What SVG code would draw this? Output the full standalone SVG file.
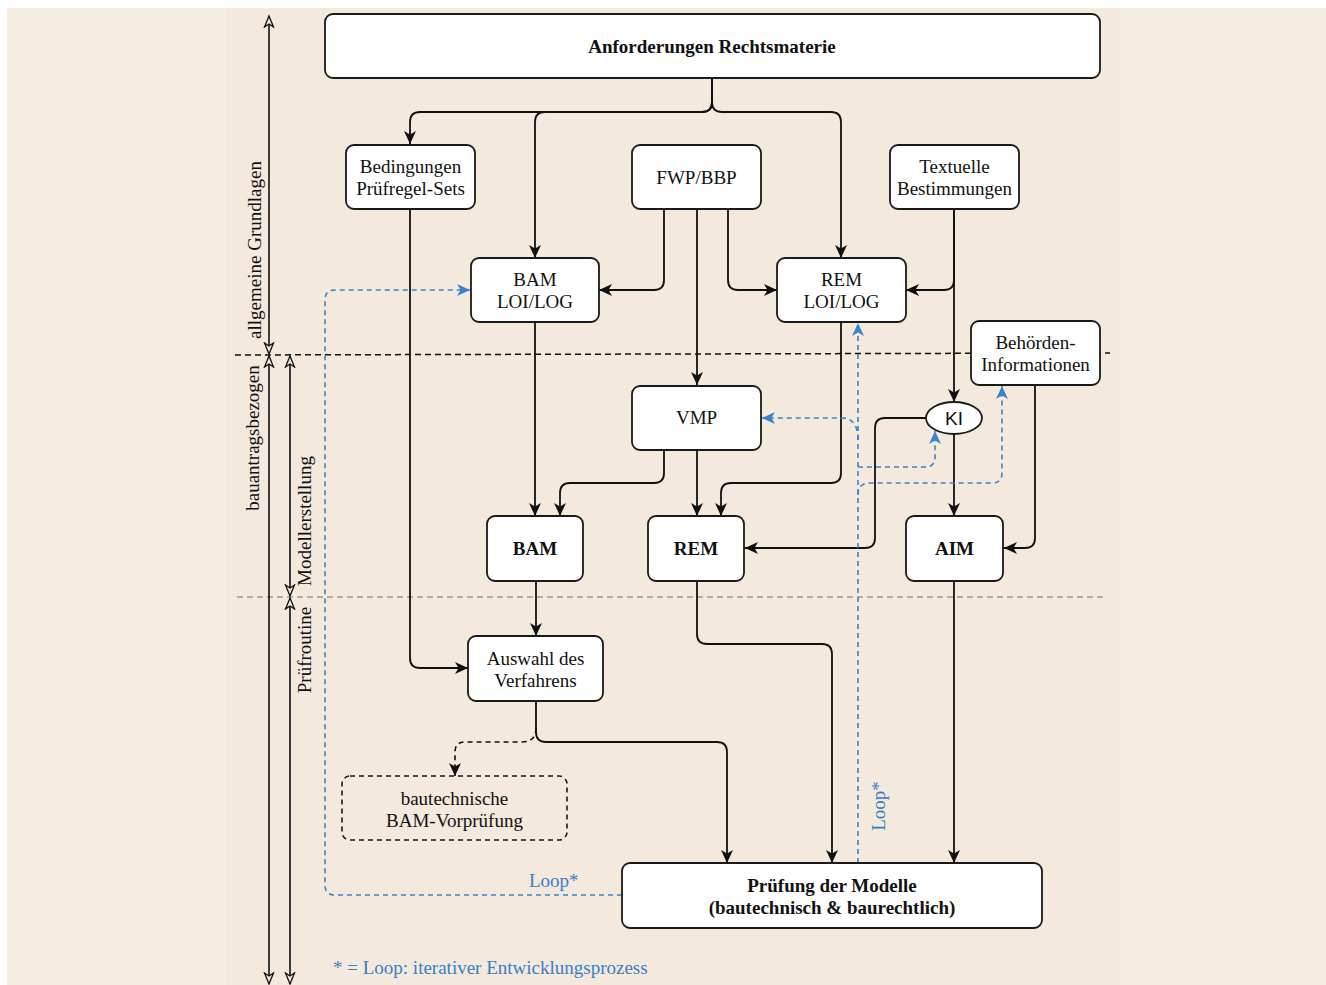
<svg xmlns="http://www.w3.org/2000/svg" width="1326" height="985" viewBox="0 0 1326 985">
<style>
.box{fill:#fff;stroke:#1a1a1a;stroke-width:1.8}
.dbox{fill:none;stroke:#1a1a1a;stroke-width:1.6;stroke-dasharray:5,4}
.t{font-family:"Liberation Serif",serif;font-size:19px;fill:#111;text-anchor:middle}
.b{font-weight:bold}
.s{font-family:"Liberation Sans",sans-serif}
.blue{fill:#3a7ec8}
.c{fill:none;stroke:#111;stroke-width:1.8}
.cd{fill:none;stroke:#111;stroke-width:1.6;stroke-dasharray:5,4}
.cb{fill:none;stroke:#3d82cc;stroke-width:1.6;stroke-dasharray:5,4}
.dim{fill:none;stroke:#111;stroke-width:1.6}
</style>
<defs>
<marker id="a" markerUnits="userSpaceOnUse" markerWidth="16" markerHeight="16" refX="13" refY="7" orient="auto">
<path d="M0,1 L13,7 L0,13 L3.5,7 z" fill="#111"/>
</marker>
<marker id="ab" markerUnits="userSpaceOnUse" markerWidth="16" markerHeight="16" refX="13" refY="7" orient="auto">
<path d="M0,1 L13,7 L0,13 L3.5,7 z" fill="#3d82cc"/>
</marker>
<marker id="o" markerUnits="userSpaceOnUse" markerWidth="14" markerHeight="14" refX="12" refY="6" orient="auto-start-reverse">
<path d="M1,1.5 L12,6 L1,10.5 L4,6 z" fill="#f4ebe0" stroke="#111" stroke-width="1.3"/>
</marker>
</defs>
<rect x="0" y="0" width="1326" height="985" fill="#fff"/>
<rect x="7" y="8" width="1319" height="977" fill="#f5ece2"/>
<rect x="226" y="8" width="894" height="977" fill="#f3e9dd"/>

<g id="guides">
<line x1="235" y1="355" x2="1110" y2="353" stroke="#111" stroke-width="1.5" stroke-dasharray="6,4"/>
<line x1="237" y1="597" x2="1105" y2="597" stroke="#999" stroke-width="1.3" stroke-dasharray="6,4"/>
<path class="dim" d="M269,16 V354" marker-start="url(#o)" marker-end="url(#o)"/>
<path class="dim" d="M269,356 V984" marker-start="url(#o)" marker-end="url(#o)"/>
<path class="dim" d="M290,356 V596" marker-start="url(#o)" marker-end="url(#o)"/>
<path class="dim" d="M290,598 V984" marker-start="url(#o)" marker-end="url(#o)"/>
<text class="t" transform="translate(261,250) rotate(-90)">allgemeine Grundlagen</text>
<text class="t" transform="translate(259,438) rotate(-90)">bauantragsbezogen</text>
<text class="t" transform="translate(311,521) rotate(-90)">Modellerstellung</text>
<text class="t" transform="translate(311,650) rotate(-90)">Prüfroutine</text>
</g>

<g id="connectors">
<path class="c" d="M712,78 V102 Q712,112 702,112 H420 Q410,112 410,122 V144" marker-end="url(#a)"/>
<path class="c" d="M712,78 V102 Q712,112 702,112 H545 Q535,112 535,122 V258" marker-end="url(#a)"/>
<path class="c" d="M712,78 V102 Q712,112 722,112 H831 Q841,112 841,122 V258" marker-end="url(#a)"/>
<path class="c" d="M664,209 V280 Q664,290 654,290 H599" marker-end="url(#a)"/>
<path class="c" d="M697,209 V385" marker-end="url(#a)"/>
<path class="c" d="M728,209 V280 Q728,290 738,290 H777" marker-end="url(#a)"/>
<path class="c" d="M954,209 V280 Q954,290 944,290 H906" marker-end="url(#a)"/>
<path class="c" d="M954,209 V402" marker-end="url(#a)"/>
<path class="c" d="M535,322 V516" marker-end="url(#a)"/>
<path class="c" d="M664,450 V473 Q664,483 654,483 H570 Q560,483 560,493 V516" marker-end="url(#a)"/>
<path class="c" d="M697,450 V516" marker-end="url(#a)"/>
<path class="c" d="M841,322 V473 Q841,483 831,483 H731 Q721,483 721,493 V516" marker-end="url(#a)"/>
<path class="c" d="M926,418 H885 Q875,418 875,428 V538 Q875,548 865,548 H745" marker-end="url(#a)"/>
<path class="c" d="M954,434 V516" marker-end="url(#a)"/>
<path class="c" d="M1035,385 V538 Q1035,548 1025,548 H1004" marker-end="url(#a)"/>
<path class="c" d="M410,209 V658 Q410,668 420,668 H468" marker-end="url(#a)"/>
<path class="c" d="M536,581 V636" marker-end="url(#a)"/>
<path class="c" d="M536,701 V732 Q536,742 546,742 H717 Q727,742 727,752 V863" marker-end="url(#a)"/>
<path class="cd" d="M536,728 Q536,742 522,742 H465 Q455,742 455,752 V776" marker-end="url(#a)"/>
<path class="c" d="M697,581 V634 Q697,644 707,644 H822 Q832,644 832,654 V863" marker-end="url(#a)"/>
<path class="c" d="M954,581 V863" marker-end="url(#a)"/>
<path class="cb" d="M858,863 V323" marker-end="url(#ab)"/>
<path class="cb" d="M858,440 Q858,418 842,418 H762" marker-end="url(#ab)"/>
<path class="cb" d="M858,467 H925 Q935,467 935,457 V431" marker-end="url(#ab)"/>
<path class="cb" d="M858,495 Q858,483 870,483 H992 Q1002,483 1002,473 V386" marker-end="url(#ab)"/>
<path class="cb" d="M622,895 H335 Q325,895 325,885 V300 Q325,290 335,290 H470" marker-end="url(#ab)"/>
<text class="t blue" x="529" y="887" style="text-anchor:start">Loop*</text>
<text class="t blue" transform="translate(885,806) rotate(-90)">Loop*</text>
</g>

<g id="n-top"><rect class="box" x="325" y="14" width="775" height="64" rx="8"/><text class="t b" x="712" y="53">Anforderungen Rechtsmaterie</text></g>
<g id="n-bed"><rect class="box" x="346" y="145" width="129" height="64" rx="8"/><text class="t" x="410.5" y="173">Bedingungen</text><text class="t" x="410.5" y="195">Prüfregel-Sets</text></g>
<g id="n-fwp"><rect class="box" x="632" y="145" width="129" height="64" rx="8"/><text class="t" x="696.5" y="184">FWP/BBP</text></g>
<g id="n-tex"><rect class="box" x="890" y="145" width="129" height="64" rx="8"/><text class="t" x="954.5" y="173">Textuelle</text><text class="t" x="954.5" y="195">Bestimmungen</text></g>
<g id="n-bamloi"><rect class="box" x="471" y="258" width="128" height="64" rx="8"/><text class="t" x="535" y="286">BAM</text><text class="t" x="535" y="308">LOI/LOG</text></g>
<g id="n-remloi"><rect class="box" x="777" y="258" width="129" height="64" rx="8"/><text class="t" x="841.5" y="286">REM</text><text class="t" x="841.5" y="308">LOI/LOG</text></g>
<g id="n-beh"><rect class="box" x="971" y="321" width="129" height="64" rx="8"/><text class="t" x="1035.5" y="349">Behörden-</text><text class="t" x="1035.5" y="371">Informationen</text></g>
<g id="n-vmp"><rect class="box" x="632" y="386" width="129" height="64" rx="8"/><text class="t" x="696.5" y="424">VMP</text></g>
<g id="n-ki"><ellipse class="box" cx="954" cy="418" rx="28" ry="16"/><text class="t s" x="954" y="424.5" font-size="18">KI</text></g>
<g id="n-bam"><rect class="box" x="487" y="516" width="96" height="65" rx="8"/><text class="t b" x="535" y="555">BAM</text></g>
<g id="n-rem"><rect class="box" x="648" y="516" width="96" height="65" rx="8"/><text class="t b" x="696" y="555">REM</text></g>
<g id="n-aim"><rect class="box" x="906" y="516" width="97" height="65" rx="8"/><text class="t b" x="954.5" y="555">AIM</text></g>
<g id="n-aus"><rect class="box" x="468" y="636" width="135" height="65" rx="8"/><text class="t" x="535.5" y="665">Auswahl des</text><text class="t" x="535.5" y="687">Verfahrens</text></g>
<g id="n-vor"><rect class="dbox" x="342" y="776" width="225" height="64" rx="8"/><text class="t" x="454.5" y="805">bautechnische</text><text class="t" x="454.5" y="827">BAM-Vorprüfung</text></g>
<g id="n-pru"><rect class="box" x="622" y="863" width="420" height="65" rx="8"/><text class="t b" x="832" y="892">Prüfung der Modelle</text><text class="t b" x="832" y="914">(bautechnisch &amp; baurechtlich)</text></g>

<text class="t blue" x="333" y="974" style="text-anchor:start">* = Loop: iterativer Entwicklungsprozess</text>
</svg>
